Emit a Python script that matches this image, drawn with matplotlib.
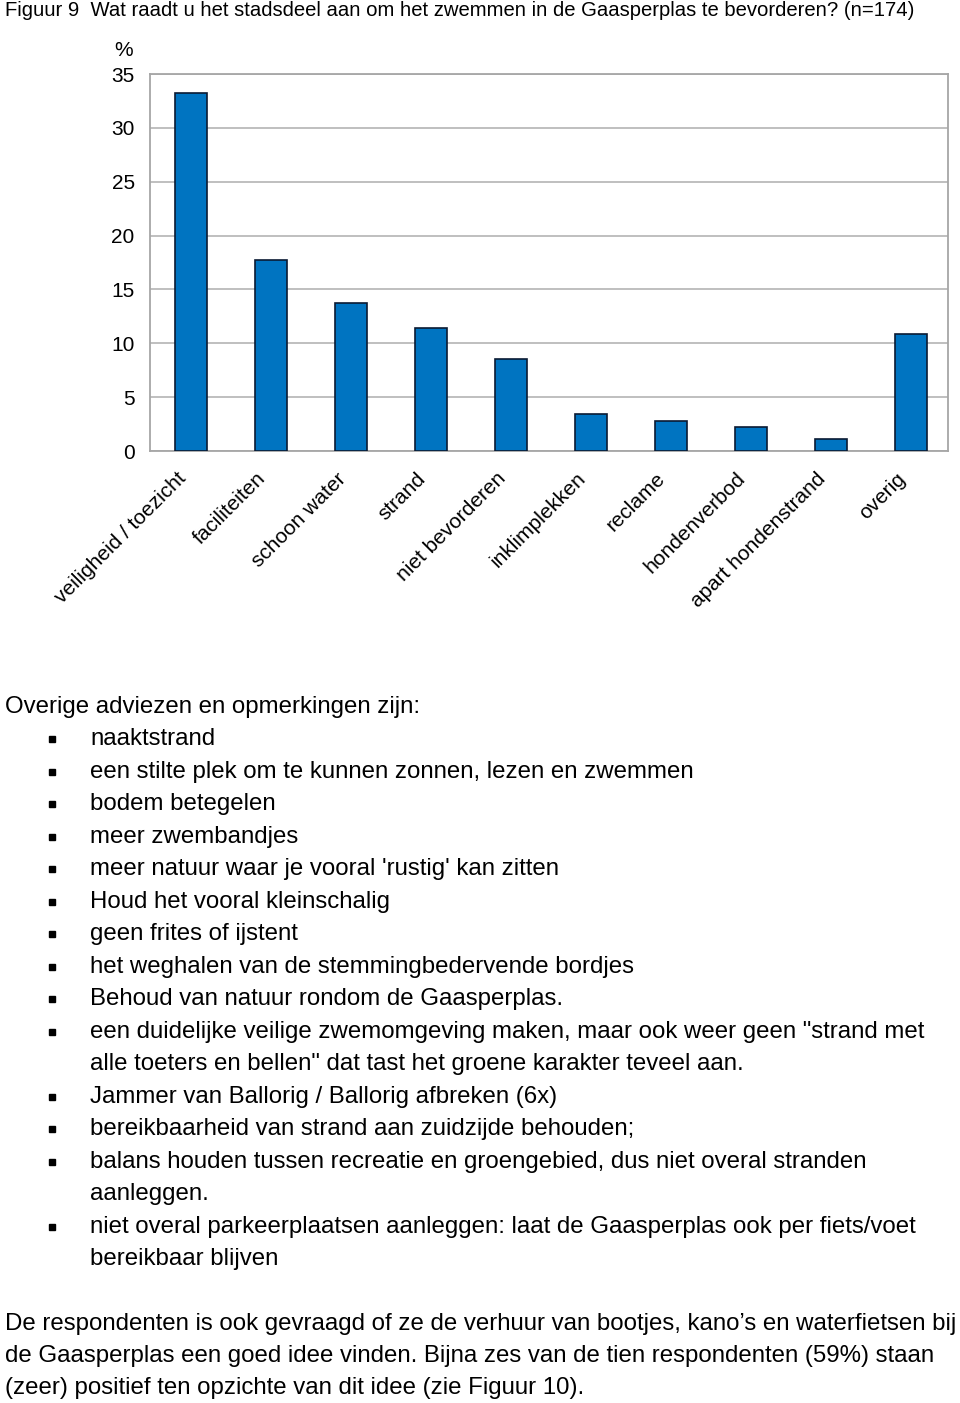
import matplotlib
matplotlib.use('agg')
import matplotlib.pyplot as plt
from matplotlib import font_manager
from matplotlib.transforms import ScaledTranslation

# chart data
categories = ['veiligheid / toezicht', 'faciliteiten', 'schoon water', 'strand',
              'niet bevorderen', 'inklimplekken', 'reclame', 'hondenverbod',
              'apart hondenstrand', 'overig']
percentages = [33.2, 17.7, 13.7, 11.4, 8.5, 3.4, 2.8, 2.2, 1.1, 10.9]
y_ticks = [0, 5, 10, 15, 20, 25, 30, 35]

title = 'Figuur 9  Wat raadt u het stadsdeel aan om het zwemmen in de Gaasperplas te bevorderen? (n=174)'
intro = 'Overige adviezen en opmerkingen zijn:'
remarks = [
    ['naaktstrand'],
    ['een stilte plek om te kunnen zonnen, lezen en zwemmen'],
    ['bodem betegelen'],
    ['meer zwembandjes'],
    ["meer natuur waar je vooral 'rustig' kan zitten"],
    ['Houd het vooral kleinschalig'],
    ['geen frites of ijstent'],
    ['het weghalen van de stemmingbedervende bordjes'],
    ['Behoud van natuur rondom de Gaasperplas.'],
    ['een duidelijke veilige zwemomgeving maken, maar ook weer geen "strand met',
     'alle toeters en bellen" dat tast het groene karakter teveel aan.'],
    ['Jammer van Ballorig / Ballorig afbreken (6x)'],
    ['bereikbaarheid van strand aan zuidzijde behouden;'],
    ['balans houden tussen recreatie en groengebied, dus niet overal stranden',
     'aanleggen.'],
    ['niet overal parkeerplaatsen aanleggen: laat de Gaasperplas ook per fiets/voet',
     'bereikbaar blijven'],
]
closing = [
    'De respondenten is ook gevraagd of ze de verhuur van bootjes, kano\u2019s en waterfietsen bij',
    'de Gaasperplas een goed idee vinden. Bijna zes van de tien respondenten (59%) staan',
    '(zeer) positief ten opzichte van dit idee (zie Figuur 10).',
]

installed = {f.name for f in font_manager.fontManager.ttflist}
if 'Liberation Sans Narrow' in installed:
    narrow, title_size = 'Liberation Sans Narrow', 17.5
else:
    narrow, title_size = 'Liberation Sans', 14.6
plt.rcParams['font.family'] = ['Liberation Sans', 'DejaVu Sans']

W, H = 960, 1403
fig = plt.figure(figsize=(W / 100, H / 100), dpi=100)

# bar chart area (pixel box 150..948 x 74..451)
ax = fig.add_axes([150 / W, 1 - 451 / H, 798 / W, 377 / H])
x = list(range(len(categories)))
ax.bar(x, percentages, width=0.4, color='#0074C1', edgecolor='#0a1a33', linewidth=1.2, zorder=3)
ax.set_xlim(-0.5125, 9.4625)
ax.set_ylim(0, 35)
ax.set_yticks(y_ticks)
ax.set_yticklabels([str(t) for t in y_ticks], fontsize=15)
ax.yaxis.grid(True, color='#b4b4b4', linewidth=1.2, zorder=0)
ax.tick_params(axis='y', length=0, pad=11)
ax.set_xticks(x)
ax.set_xticklabels(categories, rotation=45, ha='right', va='top',
                   rotation_mode='anchor', fontsize=15)
ax.tick_params(axis='x', length=0, pad=13)
shift = ScaledTranslation(-0.15, 0, fig.dpi_scale_trans)
for lab in ax.get_xticklabels():
    lab.set_transform(lab.get_transform() + shift)
for sp in ax.spines.values():
    sp.set_color('#a6a6a6')
    sp.set_linewidth(1.3)

# overlay in pixel coordinates for the text around the chart
ov = fig.add_axes([0, 0, 1, 1])
ov.set_xlim(0, W)
ov.set_ylim(H, 0)
ov.axis('off')

ov.text(5, 16, title, fontsize=title_size, family=[narrow, 'DejaVu Sans'], va='baseline')
ov.text(124, 50, '%', fontsize=15, ha='center', va='center')

step = 32.47
base = 713
ov.text(5, base, intro, fontsize=17.25, va='baseline')
row = 1
for item in remarks:
    ov.plot(52, base + row * step - 6, 's', ms=4.8, color='black')
    for line in item:
        ov.text(90, base + row * step, line, fontsize=17.25, va='baseline')
        row += 1

for i, line in enumerate(closing):
    ov.text(5, 1330 + i * 32.2, line, fontsize=17.25, va='baseline')

fig.savefig('out.png', dpi=100)
